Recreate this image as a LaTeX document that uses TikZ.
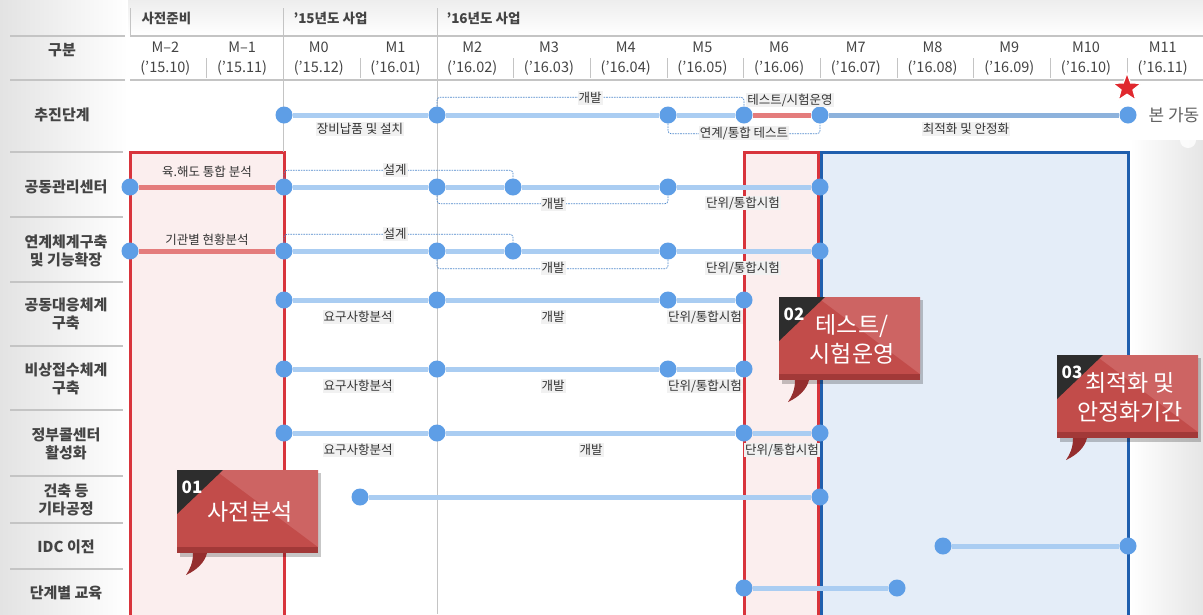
\documentclass[tikz,border=0pt]{standalone}
\usepackage{fontspec}
\setmainfont{Noto Sans CJK KR}
\usetikzlibrary{shapes.geometric,calc}
\definecolor{lineblue}{HTML}{AACDF2}
\definecolor{dotblue}{HTML}{5E9EE6}
\definecolor{redline}{HTML}{E47C7C}
\definecolor{darkline}{HTML}{8DB2DC}
\definecolor{dashblue}{HTML}{4F88CC}
\definecolor{boxred}{HTML}{D8343C}
\definecolor{pinkfill}{HTML}{FBEEEE}
\definecolor{bluefill}{HTML}{E4EDF8}
\definecolor{blueborder}{HTML}{1F5FAE}
\definecolor{grayline}{HTML}{C4C4C4}
\definecolor{textgray}{HTML}{333333}
\definecolor{headgray}{HTML}{444444}
\definecolor{labelbg}{HTML}{F1F1F1}
\definecolor{calred}{HTML}{C24C4A}
\definecolor{callight}{HTML}{CD6463}
\definecolor{caldark}{HTML}{A23938}
\definecolor{caltail}{HTML}{952E2E}
\definecolor{calblack}{HTML}{2D2D2D}
\definecolor{starred}{HTML}{E0282E}
\pgfdeclarelayer{bg}
\pgfdeclarelayer{lines}
\pgfsetlayers{bg,lines,main}
\newcommand{\mycallout}[5]{%
\begin{scope}[shift={(#1,#2)}]
 \fill[black,opacity=0.22] (3,3) rectangle (144,87);
 \fill[calred] (0,0) rectangle (141,83);
 \fill[callight] (38,0) -- (141,0) -- (141,77) -- cycle;
 \fill[caldark] (0,77) rectangle (141,83);
 \fill[caltail] (16,83) .. controls (16,93) and (13,99) .. (9,105) .. controls (20,100) and (28,92) .. (30,83) -- cycle;
 \fill[calblack] (0,0) -- (46,0) -- (0,44) -- cycle;
 \node[calnum] (#5n) at (15,17) {#3};
 \node[caltext] (#5t) at (73,42) {#4};
\end{scope}}
\begin{document}
\begin{tikzpicture}[x=1pt,y=-1pt,
  dot/.style={circle,fill=dotblue,minimum size=17pt,inner sep=0pt},
  bline/.style={line width=5pt,draw=lineblue},
  rline/.style={line width=5pt,draw=redline},
  dline/.style={line width=5pt,draw=darkline},
  dbr/.style={draw=dashblue,line width=0.7pt,dash pattern=on 1.6pt off 1pt,rounded corners=3pt},
  lbl/.style={fill=labelbg,inner sep=1pt,font=\fontsize{12.5}{14}\selectfont,text=textgray},
  rowlbl/.style={align=center,font=\bfseries\fontsize{15}{18}\selectfont,text=headgray},
  hdr/.style={font=\fontsize{14.5}{17}\selectfont,text=headgray},
  grule/.style={draw=grayline,line width=1.8pt},
  vrule/.style={draw=grayline,line width=1pt},
  calnum/.style={font=\bfseries\fontsize{17}{18}\selectfont,text=white,inner sep=0pt},
  caltext/.style={font=\fontsize{23}{29}\selectfont,text=white,align=center,inner sep=0pt},
  phasebox/.style={line width=3pt}
]
\useasboundingbox (0,0) rectangle (1203,614);
% ---------- background ----------
\begin{pgfonlayer}{bg}
\fill[white] (0,0) rectangle (1203,614);
\shade[left color=black!11,right color=white] (0,0) rectangle (128,614);
\shade[top color=black!7,bottom color=white] (128,0) rectangle (1203,36);
\shade[left color=white,right color=black!10] (1130,140) rectangle (1203,614);
\fill[white,opacity=0.8] (1188,140) circle (8);
\fill[white,opacity=0.6] (1200,128) circle (5);
% phase boxes
\filldraw[phasebox,fill=pinkfill,draw=boxred] (130,152) rectangle (284,617);
\filldraw[phasebox,fill=pinkfill,draw=boxred] (744,152) rectangle (818,617);
\filldraw[phasebox,fill=bluefill,draw=blueborder] (821,152) rectangle (1128,617);
% header rules
\draw[grule] (10,36) -- (125,36);
\draw[grule] (130,36) -- (1203,36);
\draw[grule] (10,80) -- (125,80);
\draw[grule] (130,80) -- (1203,80);
\foreach \y in {152,217,282,346,410,476,523,569}
  \draw[grule] (10,\y) -- (123,\y);
\draw[vrule] (130,8) -- (130,36);
\draw[vrule] (283.5,8) -- (283.5,152);
\draw[vrule] (437,8) -- (437,614);
\foreach \k in {1,3,5,6,7,8,9,10,11,12,13}
  \draw[vrule] ({130+76.72*\k},58) -- ({130+76.72*\k},78);
\end{pgfonlayer}
% ---------- header text ----------
\node[hdr,font=\bfseries\fontsize{13.5}{15}\selectfont,anchor=west] (h1) at (138,18) {사전준비};
\node[hdr,font=\bfseries\fontsize{13.5}{15}\selectfont,anchor=west] (h2) at (290,18) {’15년도 사업};
\node[hdr,font=\bfseries\fontsize{13.5}{15}\selectfont,anchor=west] (h3) at (443,18) {’16년도 사업};
\node[rowlbl] (gubun) at (62,50) {구분};
\foreach \m/\d [count=\i from 0] in {M–2/’15.10,M–1/’15.11,M0/’15.12,M1/’16.01,M2/’16.02,M3/’16.03,M4/’16.04,M5/’16.05,M6/’16.06,M7/’16.07,M8/’16.08,M9/’16.09,M10/’16.10,M11/’16.11}{
  \node[hdr] (m\i) at ({130+76.72*(\i+0.5)-3},47) {\m};
  \node[hdr] (d\i) at ({130+76.72*(\i+0.5)-3},68) {(\d)};
}
% ---------- row labels ----------
\node[rowlbl] (r1l) at (62,115) {추진단계};
\node[rowlbl] (r2l) at (66,187) {공동관리센터};
\node[rowlbl] (r3l) at (66,251) {연계체계구축\\및 기능확장};
\node[rowlbl] (r4l) at (66,314) {공동대응체계\\구축};
\node[rowlbl] (r5l) at (66,379) {비상접수체계\\구축};
\node[rowlbl] (r6l) at (66,444) {정부콜센터\\활성화};
\node[rowlbl] (r7l) at (66,500) {건축 등\\기타공정};
\node[rowlbl] (r8l) at (66,547) {IDC 이전};
\node[rowlbl] (r9l) at (66,593) {단계별 교육};
% ---------- dots ----------
\node[dot] (a1) at (284,115) {};
\node[dot] (a2) at (437,115) {};
\node[dot] (a3) at (668,115) {};
\node[dot] (a4) at (744,115) {};
\node[dot] (a5) at (820,115) {};
\node[dot] (a6) at (1128,115) {};
\node[dot] (b1) at (130,187) {};
\node[dot] (b2) at (284,187) {};
\node[dot] (b3) at (437,187) {};
\node[dot] (b4) at (513,187) {};
\node[dot] (b5) at (668,187) {};
\node[dot] (b6) at (820,187) {};
\node[dot] (c1) at (130,251) {};
\node[dot] (c2) at (284,251) {};
\node[dot] (c3) at (437,251) {};
\node[dot] (c4) at (513,251) {};
\node[dot] (c5) at (668,251) {};
\node[dot] (c6) at (820,251) {};
\node[dot] (d1) at (284,300) {};
\node[dot] (d2) at (437,300) {};
\node[dot] (d3) at (668,300) {};
\node[dot] (d4) at (744,300) {};
\node[dot] (e1) at (284,369) {};
\node[dot] (e2) at (437,369) {};
\node[dot] (e3) at (668,369) {};
\node[dot] (e4) at (744,369) {};
\node[dot] (f1) at (284,433) {};
\node[dot] (f2) at (437,433) {};
\node[dot] (f3) at (744,433) {};
\node[dot] (f4) at (820,433) {};
\node[dot] (g1) at (360,497) {};
\node[dot] (g2) at (820,497) {};
\node[dot] (h1d) at (943,546) {};
\node[dot] (h2d) at (1128,546) {};
\node[dot] (i1) at (744,588) {};
\node[dot] (i2) at (897,588) {};
% ---------- lines ----------
\begin{pgfonlayer}{lines}
\draw[bline] (a1) -- (a2) -- (a3) -- (a4);
\draw[rline] (a4) -- (a5);
\draw[dline] (a5) -- (a6);
\draw[rline] (b1) -- (b2);
\draw[bline] (b2) -- (b3) -- (b4) -- (b5) -- (b6);
\draw[rline] (c1) -- (c2);
\draw[bline] (c2) -- (c3) -- (c4) -- (c5) -- (c6);
\draw[bline] (d1) -- (d2) -- (d3) -- (d4);
\draw[bline] (e1) -- (e2) -- (e3) -- (e4);
\draw[bline] (f1) -- (f2) -- (f3) -- (f4);
\draw[bline] (g1) -- (g2);
\draw[bline] (h1d) -- (h2d);
\draw[bline] (i1) -- (i2);
\draw[dbr] (a2.north) -- ++(0,-9) -| (a4.north);
\draw[dbr] (a3.south) -- ++(0,10) -| (a5.south);
\draw[dbr] (b2.north) -- ++(0,-8) -| (b4.north);
\draw[dbr] (b3.south) -- ++(0,8) -| (b5.south);
\draw[dbr] (c2.north) -- ++(0,-8) -| (c4.north);
\draw[dbr] (c3.south) -- ++(0,9) -| (c5.south);
\end{pgfonlayer}
% ---------- labels ----------
\node[lbl] (la1) at (360,129) {장비납품 및 설치};
\node[lbl] (la2) at (590,98) {개발};
\node[lbl] (la3) at (790,100) {테스트/시험운영};
\node[lbl] (la4) at (744,133) {연계/통합 테스트};
\node[lbl] (la5) at (966,129) {최적화 및 안정화};
\node[hdr,font=\fontsize{17}{19}\selectfont,text=black!62] (la6) at (1174,115) {본 가동};
\node[star,star points=5,star point ratio=2.4,fill=starred,draw=white,line width=1.2pt,minimum size=30pt,inner sep=0pt] (starnode) at (1127,88) {};
\node[lbl,fill=none] (lb1) at (207,172) {육.해도 통합 분석};
\node[lbl] (lb2) at (395,170) {설계};
\node[lbl] (lb3) at (553,204) {개발};
\node[lbl] (lb4) at (743,203) {단위/통합시험};
\node[lbl,fill=none] (lc1) at (207,240) {기관별 현황분석};
\node[lbl] (lc2) at (395,234) {설계};
\node[lbl] (lc3) at (553,268) {개발};
\node[lbl] (lc4) at (743,268) {단위/통합시험};
\node[lbl] (ld1) at (358,317) {요구사항분석};
\node[lbl] (ld2) at (553,317) {개발};
\node[lbl] (ld3) at (705,317) {단위/통합시험};
\node[lbl] (le1) at (358,386) {요구사항분석};
\node[lbl] (le2) at (553,386) {개발};
\node[lbl] (le3) at (705,386) {단위/통합시험};
\node[lbl] (lf1) at (358,450) {요구사항분석};
\node[lbl] (lf2) at (591,450) {개발};
\node[lbl] (lf3) at (782,450) {단위/통합시험};
% ---------- callouts ----------
\mycallout{177}{470}{01}{사전분석}{co1}
\mycallout{779}{297}{02}{테스트/\\시험운영}{co2}
\mycallout{1057}{355}{03}{최적화 및\\안정화기간}{co3}
\end{tikzpicture}
\end{document}
